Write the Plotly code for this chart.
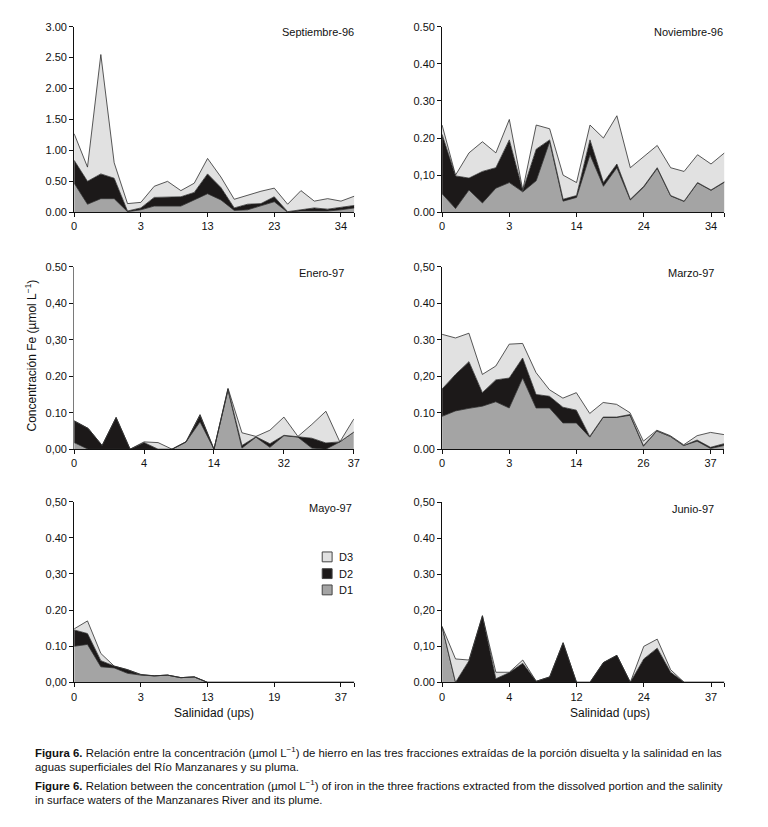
import plotly.graph_objects as go

# ---------------- data (stacked fractions D1, D2, D3 per sample) ----------------
sep_d1 = [0.47, 0.13, 0.22, 0.22, 0.01, 0.04, 0.10, 0.10, 0.10, 0.20, 0.30, 0.20, 0.03, 0.04, 0.10, 0.17, 0.00, 0.02, 0.02, 0.02, 0.04, 0.07]
sep_d2 = [0.37, 0.37, 0.40, 0.33, 0.01, 0.03, 0.14, 0.14, 0.15, 0.12, 0.32, 0.20, 0.04, 0.09, 0.04, 0.08, 0.01, 0.02, 0.05, 0.03, 0.04, 0.04]
sep_d3 = [0.43, 0.23, 1.93, 0.25, 0.12, 0.09, 0.18, 0.26, 0.10, 0.15, 0.25, 0.17, 0.14, 0.15, 0.20, 0.14, 0.12, 0.31, 0.11, 0.17, 0.10, 0.15]

nov_d1 = [0.050, 0.010, 0.060, 0.025, 0.065, 0.080, 0.055, 0.085, 0.190, 0.030, 0.040, 0.155, 0.070, 0.120, 0.033, 0.068, 0.118, 0.044, 0.029, 0.079, 0.059, 0.081]
nov_d2 = [0.160, 0.088, 0.032, 0.085, 0.055, 0.115, 0.003, 0.085, 0.005, 0.005, 0.005, 0.040, 0.010, 0.010, 0.002, 0.002, 0.002, 0.001, 0.001, 0.001, 0.001, 0.001]
nov_d3 = [0.025, 0.002, 0.068, 0.080, 0.040, 0.055, 0.002, 0.065, 0.030, 0.065, 0.035, 0.040, 0.120, 0.130, 0.085, 0.080, 0.060, 0.075, 0.080, 0.075, 0.070, 0.078]

ene_d1 = [0.018, 0.000, 0.000, 0.000, 0.000, 0.000, 0.000, 0.000, 0.020, 0.075, 0.000, 0.162, 0.003, 0.033, 0.005, 0.037, 0.033, 0.003, 0.000, 0.020, 0.047]
ene_d2 = [0.059, 0.057, 0.010, 0.087, 0.000, 0.018, 0.000, 0.000, 0.000, 0.018, 0.000, 0.003, 0.007, 0.001, 0.010, 0.001, 0.001, 0.027, 0.017, 0.000, 0.000]
ene_d3 = [0.001, 0.000, 0.000, 0.000, 0.000, 0.002, 0.018, 0.000, 0.000, 0.002, 0.000, 0.002, 0.035, 0.001, 0.037, 0.050, 0.001, 0.038, 0.087, 0.000, 0.036]

mar_d1 = [0.090, 0.105, 0.112, 0.118, 0.130, 0.113, 0.195, 0.113, 0.113, 0.072, 0.072, 0.033, 0.087, 0.087, 0.093, 0.008, 0.050, 0.035, 0.010, 0.022, 0.002, 0.010]
mar_d2 = [0.075, 0.100, 0.128, 0.037, 0.060, 0.082, 0.055, 0.037, 0.032, 0.043, 0.035, 0.002, 0.001, 0.001, 0.002, 0.002, 0.000, 0.000, 0.000, 0.003, 0.003, 0.005]
mar_d3 = [0.150, 0.100, 0.078, 0.050, 0.038, 0.093, 0.040, 0.060, 0.018, 0.025, 0.048, 0.063, 0.040, 0.035, 0.005, 0.012, 0.002, 0.002, 0.002, 0.012, 0.041, 0.025]

may_d1 = [0.100, 0.105, 0.043, 0.040, 0.025, 0.020, 0.018, 0.020, 0.013, 0.015, 0.0, 0.0, 0.0, 0.0, 0.0, 0.0, 0.0, 0.0, 0.0, 0.0, 0.0, 0.0]
may_d2 = [0.045, 0.030, 0.017, 0.005, 0.010, 0.001, 0.000, 0.000, 0.000, 0.000, 0.0, 0.0, 0.0, 0.0, 0.0, 0.0, 0.0, 0.0, 0.0, 0.0, 0.0, 0.0]
may_d3 = [0.003, 0.035, 0.020, 0.000, 0.000, 0.001, 0.000, 0.000, 0.000, 0.000, 0.0, 0.0, 0.0, 0.0, 0.0, 0.0, 0.0, 0.0, 0.0, 0.0, 0.0, 0.0]

jun_d1 = [0.155, 0.0, 0.0, 0.0, 0.0, 0.0, 0.0, 0.0, 0.0, 0.0, 0.0, 0.0, 0.0, 0.0, 0.0, 0.0, 0.0, 0.0, 0.0, 0.0, 0.0, 0.0]
jun_d2 = [0.000, 0.000, 0.060, 0.185, 0.010, 0.027, 0.053, 0.003, 0.015, 0.110, 0.0, 0.0, 0.055, 0.075, 0.0, 0.065, 0.095, 0.028, 0.0, 0.0, 0.0, 0.0]
jun_d3 = [0.000, 0.065, 0.002, 0.000, 0.018, 0.001, 0.009, 0.000, 0.000, 0.000, 0.0, 0.0, 0.000, 0.000, 0.0, 0.035, 0.025, 0.007, 0.0, 0.0, 0.0, 0.0]

panel_titles = ["Septiembre-96", "Noviembre-96", "Enero-97", "Marzo-97", "Mayo-97", "Junio-97"]
x_ticklabels = [
    ["0", "3", "13", "23", "34"],
    ["0", "3", "14", "24", "34"],
    ["0", "4", "14", "32", "37"],
    ["0", "3", "14", "26", "37"],
    ["0", "3", "13", "19", "37"],
    ["0", "4", "12", "24", "37"],
]
y_ticklabels = [
    ["0.00", "0.50", "1.00", "1.50", "2.00", "2.50", "3.00"],
    ["0.00", "0,10", "0.20", "0.30", "0.40", "0.50"],
    ["0,00", "0.10", "0.20", "0,30", "0,40", "0.50"],
    ["0.00", "0.10", "0,20", "0.30", "0.40", "0,50"],
    ["0,00", "0.10", "0.20", "0,30", "0.40", "0,50"],
    ["0.00", "0,10", "0,20", "0.30", "0.40", "0,50"],
]
y_tickvals = [
    [0, 0.5, 1.0, 1.5, 2.0, 2.5, 3.0],
    [0, 0.1, 0.2, 0.3, 0.4, 0.5],
    [0, 0.1, 0.2, 0.3, 0.4, 0.5],
    [0, 0.1, 0.2, 0.3, 0.4, 0.5],
    [0, 0.1, 0.2, 0.3, 0.4, 0.5],
    [0, 0.1, 0.2, 0.3, 0.4, 0.5],
]
y_max = [3.0, 0.5, 0.5, 0.5, 0.5, 0.5]
fractions = ["D1", "D2", "D3"]

panels = [
    (sep_d1, sep_d2, sep_d3),
    (nov_d1, nov_d2, nov_d3),
    (ene_d1, ene_d2, ene_d3),
    (mar_d1, mar_d2, mar_d3),
    (may_d1, may_d2, may_d3),
    (jun_d1, jun_d2, jun_d3),
]

# ---------------- styling / layout ----------------
W, H = 768, 827
fill_colors = {"D1": "#a4a4a4", "D2": "#1c1919", "D3": "#e1e1e1"}
line_col = "#2f2f2f"
font_main = "Liberation Sans, Arial, sans-serif"

# panel pixel boxes: (left, right, top, bottom)
boxes = [
    (72, 355.5, 21, 209.3),
    (444.3, 730, 21, 209.3),
    (72, 355, 264.7, 449.7),
    (444.3, 729.5, 264.7, 449.7),
    (72, 355.5, 503, 686.3),
    (444.3, 730, 503.7, 686.3),
]
title_pos = [(357, 26.5), (731, 26.5), (347, 270.5), (721.5, 270.5), (355.5, 509), (721, 510.5)]

fig = go.Figure()
layout = dict(
    width=W, height=H,
    margin=dict(l=0, r=0, t=0, b=0),
    paper_bgcolor="white", plot_bgcolor="white",
    showlegend=False,
    font=dict(family=font_main, size=11, color="#111"),
)

annotations = []
for k, (series, box) in enumerate(zip(panels, boxes)):
    n = len(series[0])
    xs = list(range(n))
    ax = "" if k == 0 else str(k + 1)
    for name, vals in zip(fractions, series):
        fig.add_trace(go.Scatter(
            x=xs, y=vals, name=name,
            xaxis="x" + ax, yaxis="y" + ax,
            stackgroup="g%d" % k,
            mode="lines",
            line=dict(color=line_col, width=0.8, shape="linear"),
            fillcolor=fill_colors[name],
            hoverinfo="skip",
        ))
    l, r, t, b = box
    xdom = [l / W, r / W]
    ydom = [1 - b / H, 1 - t / H]
    axis_col = "#7a7a7a" if k == 2 else "#111"
    xa = dict(
        domain=xdom, anchor="y" + ax, range=[0, n - 1],
        tickmode="array", tickvals=[0, 5, 10, 15, 20], ticktext=x_ticklabels[k],
        ticks="outside", ticklen=4, tickwidth=1, tickcolor="#111",
        showline=True, linecolor="#111", linewidth=1,
        showgrid=False, zeroline=False,
        tickfont=dict(size=11, family=font_main, color="#111"),
        fixedrange=True,
    )
    if n == 22:
        xa["minor"] = dict(tickmode="array", tickvals=[21], ticks="outside",
                           ticklen=4, tickwidth=1, tickcolor="#111", showgrid=False)
    layout["xaxis" + ax] = xa
    layout["yaxis" + ax] = dict(
        domain=ydom, anchor="x" + ax, range=[0, y_max[k]],
        tickmode="array", tickvals=y_tickvals[k], ticktext=y_ticklabels[k],
        ticks="outside", ticklen=4, tickwidth=1, tickcolor="#111",
        showline=True, linecolor=axis_col, linewidth=1,
        showgrid=False, zeroline=False,
        tickfont=dict(size=11, family=font_main, color="#111"),
        fixedrange=True,
    )
    tx, ty = title_pos[k]
    annotations.append(dict(
        text=panel_titles[k], xref="paper", yref="paper",
        x=tx / W, y=1 - ty / H, xanchor="right", yanchor="middle",
        showarrow=False, font=dict(size=11, family=font_main, color="#111"),
    ))

# y axis title
annotations.append(dict(
    text="Concentración Fe (µmol L<sup>−1</sup>)", xref="paper", yref="paper",
    x=28 / W, y=1 - 355 / H, xanchor="center", yanchor="middle", textangle=-90,
    showarrow=False, font=dict(size=12, family=font_main, color="#111"),
))
# x axis titles
for cx in (213, 614):
    annotations.append(dict(
        text="Salinidad (ups)", xref="paper", yref="paper",
        x=cx / W, y=1 - 717 / H, xanchor="center", yanchor="middle",
        showarrow=False, font=dict(size=12, family=font_main, color="#111"),
    ))

# legend (inside Mayo-97 panel)
shapes = []
legend_items = [("D3", 559), ("D2", 576), ("D1", 592.5)]
for name, cy in legend_items:
    shapes.append(dict(
        type="rect", xref="paper", yref="paper",
        x0=323 / W, x1=333 / W, y0=1 - (cy + 5) / H, y1=1 - (cy - 5) / H,
        fillcolor=fill_colors[name], line=dict(color="#444", width=1),
    ))
    annotations.append(dict(
        text=name, xref="paper", yref="paper",
        x=338 / W, y=1 - cy / H, xanchor="left", yanchor="middle",
        showarrow=False, font=dict(size=11, family=font_main, color="#111"),
    ))

# caption
cap_font = "Liberation Sans Narrow, Arial Narrow, Liberation Sans, sans-serif"
caption = [
    ("<b>Figura 6.</b> Relación entre la concentración (µmol L<sup>−1</sup>) de hierro en las tres fracciones extraídas de la porción disuelta y la salinidad en las", 757),
    ("aguas superficiales del Río Manzanares y su pluma.", 772),
    ("<b>Figure 6.</b> Relation between the concentration (µmol L<sup>−1</sup>) of iron in the three fractions extracted from the dissolved portion and the salinity", 790),
    ("in surface waters of the Manzanares River and its plume.", 806),
]
for txt, cy in caption:
    annotations.append(dict(
        text=txt, xref="paper", yref="paper",
        x=30 / W, y=1 - cy / H, xanchor="left", yanchor="middle",
        showarrow=False, font=dict(size=11.4, family=cap_font, color="#111"),
    ))

layout["annotations"] = annotations
layout["shapes"] = shapes
fig.update_layout(**layout)
fig.write_html(
    "out.html",
    config={"displayModeBar": False, "staticPlot": True},
    post_script="document.body.style.margin='0px';document.body.style.overflow='hidden';document.documentElement.style.overflow='hidden';",
)
